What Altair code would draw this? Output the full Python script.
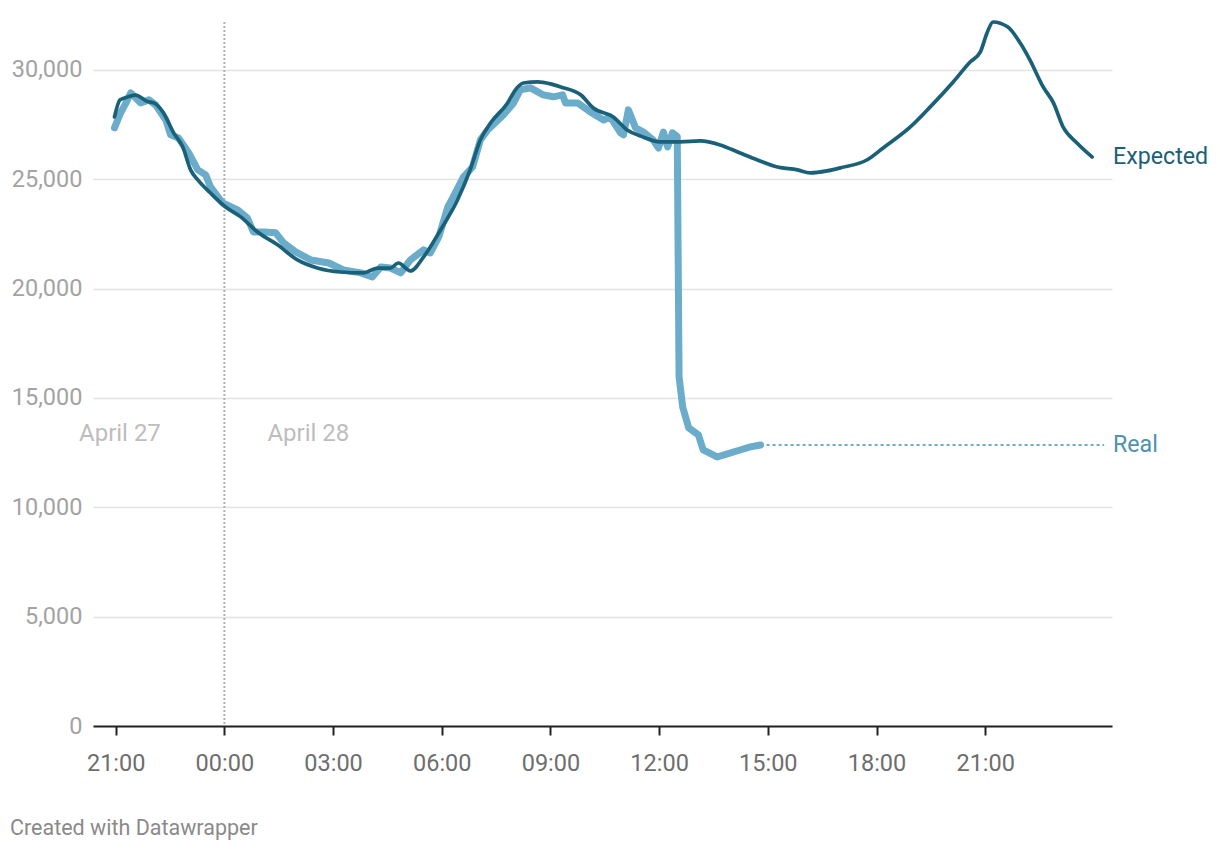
import altair as alt
import pandas as pd

BASE = pd.Timestamp("2025-04-27 21:00")

expected_times = [
    "2025-04-27 20:58", "2025-04-27 21:07", "2025-04-27 21:13", "2025-04-27 21:33",
    "2025-04-27 21:53", "2025-04-27 22:03", "2025-04-27 22:18", "2025-04-27 22:36",
    "2025-04-27 22:51", "2025-04-27 23:04", "2025-04-27 23:16", "2025-04-27 23:37",
    "2025-04-28 00:02", "2025-04-28 00:27", "2025-04-28 00:55", "2025-04-28 01:28",
    "2025-04-28 02:01", "2025-04-28 02:34", "2025-04-28 03:12", "2025-04-28 03:50",
    "2025-04-28 04:14", "2025-04-28 04:35", "2025-04-28 04:48", "2025-04-28 05:08",
    "2025-04-28 05:30", "2025-04-28 05:58", "2025-04-28 06:26", "2025-04-28 06:47",
    "2025-04-28 07:04", "2025-04-28 07:21", "2025-04-28 07:49", "2025-04-28 08:02",
    "2025-04-28 08:15", "2025-04-28 08:39", "2025-04-28 09:00", "2025-04-28 09:17",
    "2025-04-28 09:50", "2025-04-28 10:11", "2025-04-28 10:44", "2025-04-28 11:07",
    "2025-04-28 11:29", "2025-04-28 12:02", "2025-04-28 12:35", "2025-04-28 13:08",
    "2025-04-28 13:41", "2025-04-28 14:14", "2025-04-28 14:43", "2025-04-28 15:16",
    "2025-04-28 15:49", "2025-04-28 16:10", "2025-04-28 16:38", "2025-04-28 17:00",
    "2025-04-28 17:44", "2025-04-28 18:11", "2025-04-28 18:56", "2025-04-28 19:29",
    "2025-04-28 20:07", "2025-04-28 20:35", "2025-04-28 20:52", "2025-04-28 21:03",
    "2025-04-28 21:13", "2025-04-28 21:37", "2025-04-28 21:58", "2025-04-28 22:14",
    "2025-04-28 22:36", "2025-04-28 22:53", "2025-04-28 23:09", "2025-04-28 23:32",
    "2025-04-28 23:57",
]
expected_values = [
    27850, 28630, 28700, 28850,
    28550, 28490, 28080, 27120,
    26480, 25430, 24970, 24370,
    23730, 23280, 22590, 22000,
    21310, 20940, 20760, 20720,
    20940, 20940, 21170, 20810,
    21450, 22680, 24050, 25430,
    26800, 27580, 28490, 29090,
    29400, 29450, 29360, 29220,
    28860, 28260, 27850, 27250,
    26980, 26710, 26710, 26750,
    26570, 26200, 25880, 25560,
    25430, 25290, 25380, 25520,
    25880, 26430, 27390, 28310,
    29450, 30360, 30820, 31690,
    32190, 31970, 31230, 30460,
    29220, 28490, 27390, 26660,
    26020,
]

real_times = [
    "2025-04-27 20:58", "2025-04-27 21:08", "2025-04-27 21:17", "2025-04-27 21:25",
    "2025-04-27 21:41", "2025-04-27 21:55", "2025-04-27 22:06", "2025-04-27 22:23",
    "2025-04-27 22:31", "2025-04-27 22:44", "2025-04-27 23:01", "2025-04-27 23:16",
    "2025-04-27 23:29", "2025-04-27 23:37", "2025-04-27 23:57", "2025-04-28 00:22",
    "2025-04-28 00:38", "2025-04-28 00:48", "2025-04-28 01:05", "2025-04-28 01:25",
    "2025-04-28 01:38", "2025-04-28 01:58", "2025-04-28 02:23", "2025-04-28 02:53",
    "2025-04-28 03:17", "2025-04-28 03:46", "2025-04-28 04:05", "2025-04-28 04:19",
    "2025-04-28 04:35", "2025-04-28 04:52", "2025-04-28 05:08", "2025-04-28 05:30",
    "2025-04-28 05:41", "2025-04-28 05:55", "2025-04-28 06:10", "2025-04-28 06:19",
    "2025-04-28 06:36", "2025-04-28 06:51", "2025-04-28 07:04", "2025-04-28 07:16",
    "2025-04-28 07:42", "2025-04-28 07:59", "2025-04-28 08:10", "2025-04-28 08:27",
    "2025-04-28 08:48", "2025-04-28 09:05", "2025-04-28 09:20", "2025-04-28 09:25",
    "2025-04-28 09:45", "2025-04-28 10:06", "2025-04-28 10:28", "2025-04-28 10:39",
    "2025-04-28 10:56", "2025-04-28 11:01", "2025-04-28 11:09", "2025-04-28 11:21",
    "2025-04-28 11:34", "2025-04-28 11:50", "2025-04-28 11:59", "2025-04-28 12:07",
    "2025-04-28 12:14", "2025-04-28 12:22", "2025-04-28 12:30", "2025-04-28 12:33",
    "2025-04-28 12:39", "2025-04-28 12:49", "2025-04-28 13:05", "2025-04-28 13:13",
    "2025-04-28 13:36", "2025-04-28 13:53", "2025-04-28 14:14", "2025-04-28 14:31",
    "2025-04-28 14:48",
]
real_values = [
    27350, 28030, 28490, 28950,
    28490, 28630, 28400, 27710,
    27030, 26890, 26200, 25430,
    25200, 24650, 23920, 23600,
    23230, 22590, 22590, 22550,
    22090, 21680, 21310, 21170,
    20850, 20720, 20530, 20990,
    20940, 20720, 21310, 21770,
    21630, 22360, 23730, 24190,
    25110, 25560, 26800, 27250,
    27940, 28490, 29090, 29180,
    28860, 28770, 28860, 28490,
    28490, 28080, 27710, 27850,
    27120, 27030, 28170, 27350,
    27160, 26800, 26430, 27160,
    26480, 27120, 26950, 15960,
    14590, 13630, 13310, 12620,
    12300, 12440, 12620, 12760,
    12850,
]

series_labels = ["Expected", "Real"]
date_labels = ["April 27", "April 28"]
date_label_times = ["2025-04-27 21:07", "2025-04-28 02:19"]
date_label_value = 13350
x_tick_labels = ["21:00", "00:00", "03:00", "06:00", "09:00", "12:00", "15:00", "18:00", "21:00"]
y_ticks = [0, 5000, 10000, 15000, 20000, 25000, 30000]
midnight = "2025-04-28 00:00"
real_dash_end = "2025-04-29 00:17"
y_max = 32190


def hours(t):
    return (pd.Timestamp(t) - BASE).total_seconds() / 3600.0


exp_df = pd.DataFrame({"h": [hours(t) for t in expected_times], "v": expected_values})
real_df = pd.DataFrame({"h": [hours(t) for t in real_times], "v": real_values})

x_min = hours("2025-04-27 20:23") - 0.01
x_max = hours("2025-04-29 00:30")

W, H = 1019, 704
DARK = "#1a6078"
LIGHT = "#6aacca"

x_scale = alt.Scale(domain=[x_min, x_max], nice=False, zero=False)
y_scale = alt.Scale(domain=[0, y_max], nice=False)

label_expr = "[" + ",".join("'" + s + "'" for s in x_tick_labels) + "][round(datum.value/3)]"

x_axis = alt.Axis(
    values=[0, 3, 6, 9, 12, 15, 18, 21, 24],
    labelExpr=label_expr,
    title=None,
    grid=False,
    domain=True,
    domainColor="#222222",
    domainWidth=2,
    ticks=True,
    tickColor="#222222",
    tickSize=9,
    tickWidth=2,
    labelColor="#6e6e6e",
    labelFontSize=23.5,
    labelPadding=16,
)
y_axis = alt.Axis(
    values=y_ticks,
    format=",.0f",
    title=None,
    grid=True,
    gridColor="#e2e2e2",
    gridWidth=1.6,
    domain=False,
    ticks=False,
    labelColor="#a3a3a3",
    labelFontSize=23.5,
    labelPadding=11,
)

grid_layer = alt.Chart(pd.DataFrame({"h": [0.0], "v": [0]})).mark_point(opacity=0).encode(
    x=alt.X("h:Q", scale=x_scale, axis=x_axis), y=alt.Y("v:Q", scale=y_scale, axis=y_axis)
)

mid_df = pd.DataFrame({"h": [hours(midnight)]})
mid_rule = alt.Chart(mid_df).mark_rule(color="#b0b0b0", strokeWidth=2, strokeDash=[2, 2]).encode(
    x=alt.X("h:Q", scale=x_scale), y=alt.value(0), y2=alt.value(H)
)

real_line = alt.Chart(real_df).mark_line(
    color=LIGHT, strokeWidth=7, strokeCap="round", strokeJoin="round"
).encode(x=alt.X("h:Q", scale=x_scale), y=alt.Y("v:Q", scale=y_scale))

dash_df = pd.DataFrame({
    "h": [real_df["h"].iloc[-1]], "h2": [hours(real_dash_end)], "v": [real_values[-1]]
})
real_dash = alt.Chart(dash_df).mark_rule(color=LIGHT, strokeWidth=2, strokeDash=[3, 3]).encode(
    x=alt.X("h:Q", scale=x_scale), x2="h2:Q", y=alt.Y("v:Q", scale=y_scale)
)

exp_line = alt.Chart(exp_df).mark_line(
    color=DARK, strokeWidth=3.7, strokeCap="round", strokeJoin="round", interpolate="monotone"
).encode(x=alt.X("h:Q", scale=x_scale), y=alt.Y("v:Q", scale=y_scale))

lab_df = pd.DataFrame({
    "h": [x_max, x_max],
    "v": [expected_values[-1], real_values[-1]],
    "t": series_labels,
    "c": [DARK, "#4d92ae"],
})
labels = alt.Chart(lab_df).mark_text(align="left", baseline="middle", dx=1, fontSize=23.2).encode(
    x=alt.X("h:Q", scale=x_scale), y=alt.Y("v:Q", scale=y_scale), text="t:N",
    color=alt.Color("c:N", scale=None)
)

date_df = pd.DataFrame({
    "h": [hours(t) for t in date_label_times],
    "v": [date_label_value, date_label_value],
    "t": date_labels,
})
dates = alt.Chart(date_df).mark_text(
    align="center", baseline="middle", fontSize=24, color="#bdbdbd"
).encode(x=alt.X("h:Q", scale=x_scale), y=alt.Y("v:Q", scale=y_scale), text="t:N")

chart = alt.layer(
    grid_layer, mid_rule, real_line, real_dash, exp_line, labels, dates
).properties(
    width=W,
    height=H,
    autosize=alt.AutoSizeParams(type="none"),
    padding={"left": 85, "top": 14, "right": 100, "bottom": 118},
    title=alt.TitleParams(
        "Created with Datawrapper",
        orient="bottom",
        anchor="start",
        frame="group",
        dx=-83,
        offset=43,
        fontSize=21.5,
        fontWeight="normal",
        color="#8a8a8a",
    ),
).configure(font="Roboto").configure_view(stroke=None)

chart.save("out.html", embed_options={"renderer": "svg", "actions": False})
